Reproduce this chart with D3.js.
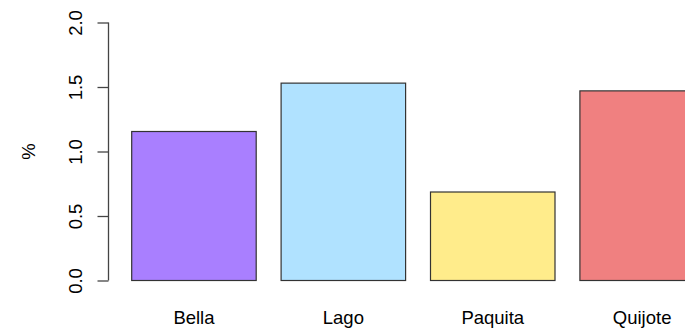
<!DOCTYPE html>
<html>
<head>
<meta charset="utf-8">
<script src="https://cdn.jsdelivr.net/npm/d3@7"></script>
<style>
  body { margin: 0; background: #fff; }
  text { font-family: "Liberation Sans", Arial, sans-serif; fill: #000; }
</style>
</head>
<body>
<div id="chart"></div>
<script>
const categories = ['Bella', 'Lago', 'Paquita', 'Quijote']
const values = [1.155, 1.53, 0.686, 1.47]
const colors = ['#a97fff', '#b0e2ff', '#ffec8b', '#f08080']
const yTicks = [0, 0.5, 1, 1.5, 2]
const yLabel = '%'

const width = 685
const height = 329
const space = 0.2

const svg = d3.select('#chart').append('svg')
  .attr('width', width)
  .attr('height', height)

// R barplot style: each bar is 1 unit wide with 0.2 spacing before it
const x = d3.scaleLinear()
  .domain([0, 1])
  .range([106.8, 106.8 + 124.5])

const y = d3.scaleLinear()
  .domain([0, 2])
  .range([280.5, 22.5])

const barLeft = (i) => space + i * (1 + space)

svg.append('g')
  .selectAll('rect')
  .data(values)
  .enter()
  .append('rect')
  .attr('x', (d, i) => x(barLeft(i)))
  .attr('width', x(1) - x(0))
  .attr('y', d => y(d))
  .attr('height', d => y(0) - y(d))
  .style('fill', (d, i) => colors[i])
  .style('stroke', '#333')
  .style('stroke-width', 1.2)

svg.append('g')
  .selectAll('text')
  .data(categories)
  .enter()
  .append('text')
  .attr('x', (d, i) => x(barLeft(i) + 0.5))
  .attr('y', 323.5)
  .attr('text-anchor', 'middle')
  .style('font-size', '18.5px')
  .text(d => d)

const yAxis = svg.append('g')
  .attr('transform', 'translate(108.5,0)')
  .call(d3.axisLeft(y).tickValues(yTicks).tickSize(11).tickPadding(0).tickFormat(d3.format('.1f')))

yAxis.select('.domain')
  .attr('d', `M0,${y(0)}V${y(2)}`)
  .style('stroke', '#444')
  .style('stroke-width', 1.3)
yAxis.selectAll('.tick line')
  .style('stroke', '#444')
  .style('stroke-width', 1.3)
yAxis.selectAll('.tick text')
  .attr('x', 0)
  .attr('dy', null)
  .attr('transform', 'translate(-26.5,0) rotate(-90)')
  .attr('text-anchor', 'middle')
  .style('font-family', '"Liberation Sans", Arial, sans-serif')
  .style('font-size', '18.5px')
  .style('fill', '#000')

svg.append('text')
  .attr('transform', `translate(35,${(y(0) + y(2)) / 2}) rotate(-90)`)
  .attr('text-anchor', 'middle')
  .style('font-size', '18.5px')
  .text(yLabel)
</script>
</body>
</html>
